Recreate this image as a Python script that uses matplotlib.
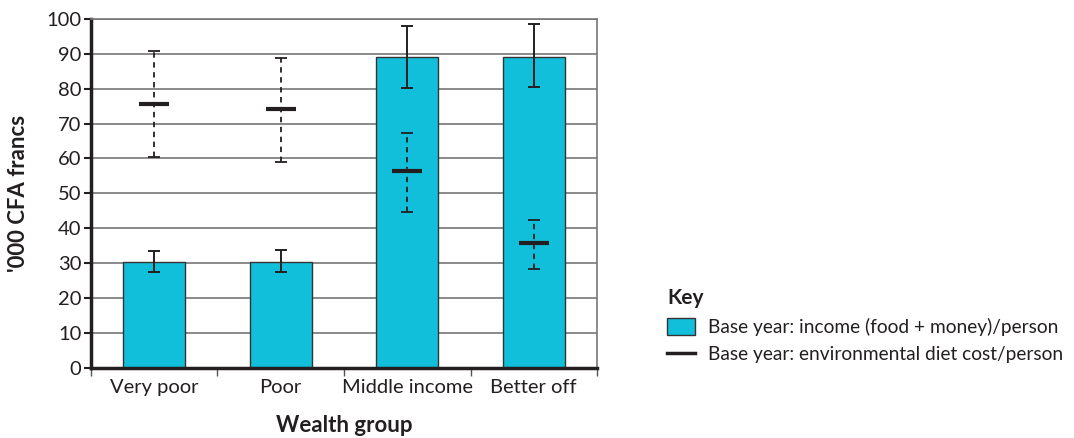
import numpy as np
import matplotlib.pyplot as plt
from matplotlib.patches import Patch
from matplotlib.lines import Line2D

plt.rcParams['font.family'] = ['Lato', 'DejaVu Sans']

# --- data ---
groups = ['Very poor', 'Poor', 'Middle income', 'Better off']
income = [30.3, 30.3, 89.2, 89.2]
income_hi = [33.6, 33.9, 98.0, 98.4]
income_lo = [27.5, 27.5, 80.2, 80.5]
diet = [75.7, 74.3, 56.5, 35.9]
diet_hi = [90.8, 88.8, 67.3, 42.4]
diet_lo = [60.5, 59.0, 44.8, 28.2]

bar_col = '#12BFDA'
dark = '#231F20'

fig = plt.figure(figsize=(10.74, 4.38), dpi=100)
ax = fig.add_axes([0.0847, 0.16, 0.4712, 0.797])

x = np.arange(len(groups))
inc = np.array(income)
diet = np.array(diet)

ax.bar(x, inc, width=0.49, color=bar_col, edgecolor='#333333', linewidth=1.0, zorder=2)
ax.errorbar(x, inc, yerr=[inc - np.array(income_lo), np.array(income_hi) - inc],
            fmt='none', ecolor=dark, elinewidth=1.4, capsize=4.5, capthick=1.4, zorder=3)

eb = ax.errorbar(x, diet, yerr=[diet - np.array(diet_lo), np.array(diet_hi) - diet],
                 fmt='none', ecolor=dark, elinewidth=1.3, capsize=4.5, capthick=1.3, zorder=3)
eb[2][0].set_linestyle((0, (3, 2.5)))
ax.hlines(diet, x - 0.12, x + 0.12, colors=dark, linewidth=3, zorder=4)

ax.set_xlim(-0.5, len(groups) - 0.5)
ax.set_ylim(0, 100)
ax.set_yticks(np.arange(0, 101, 10))
ax.set_xticks(x)
ax.set_xticklabels(groups, fontsize=14.5, color=dark)
ax.set_xticks(np.arange(-0.5, len(groups), 1), minor=True)
ax.tick_params(axis='x', which='major', length=0, pad=8)
ax.tick_params(axis='x', which='minor', length=6, width=1, color='#555555', direction='out')
ax.tick_params(axis='y', labelsize=14.5, labelcolor=dark, length=5, width=1.5, color=dark, pad=2)

ax.grid(axis='y', color='#777777', linewidth=1.2, zorder=0)
ax.set_axisbelow(True)
ax.spines['left'].set_linewidth(2.5)
ax.spines['left'].set_color(dark)
ax.spines['bottom'].set_linewidth(2.5)
ax.spines['bottom'].set_color(dark)
ax.spines['top'].set_color('#777777')
ax.spines['top'].set_linewidth(1.2)
ax.spines['right'].set_color('#777777')
ax.spines['right'].set_linewidth(1.2)

ax.set_ylabel("'000 CFA francs", fontsize=16, fontweight='bold', color=dark, labelpad=12)
ax.set_xlabel('Wealth group', fontsize=16, fontweight='bold', color=dark, labelpad=14)

handles = [Patch(facecolor=bar_col, edgecolor='#333333', linewidth=1.0),
           Line2D([], [], color=dark, linewidth=2.5)]
labels = ['Base year: income (food + money)/person',
          'Base year: environmental diet cost/person']
leg = fig.legend(handles, labels, loc='upper left', bbox_to_anchor=(0.605, 0.381),
                 frameon=False, fontsize=13.8, title='Key', handlelength=1.45,
                 handleheight=0.95, handletextpad=0.7, labelspacing=0.5,
                 labelcolor=dark)
leg.get_title().set_fontweight('bold')
leg.get_title().set_fontsize(15)
leg.get_title().set_color(dark)
leg._legend_box.align = 'left'

fig.savefig('out.png', dpi=100)
